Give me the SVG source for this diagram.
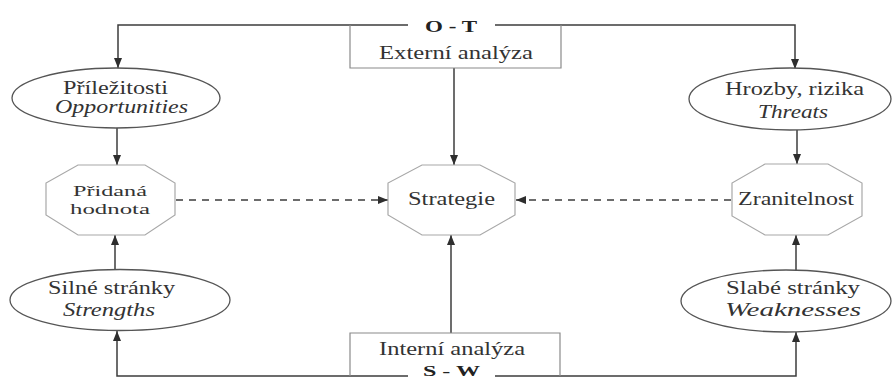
<svg xmlns="http://www.w3.org/2000/svg" width="893" height="378" viewBox="0 0 893 378">
<style>
  text { font-family: "Liberation Serif", "DejaVu Serif", "Times New Roman", serif; font-size: 18px; fill: #333; }
  .it { font-style: italic; }
  .sm { font-size: 15.5px; }
  .bd { font-weight: bold; font-size: 17px; fill: #222; }
  .conn { fill: none; stroke: #3c3c3c; stroke-width: 1.5; }
  .dash { stroke-dasharray: 7 6; }
  .oct { fill: #fff; stroke: #a8a8a8; stroke-width: 1.2; }
  .ell { fill: #fff; stroke: #555; stroke-width: 1.3; }
  .box { fill: none; stroke: #8a8a8a; stroke-width: 1.2; }
</style>
<defs>
  <marker id="ah" markerWidth="10" markerHeight="10" viewBox="0 0 10 10" refX="10" refY="5" orient="auto" markerUnits="userSpaceOnUse">
    <path d="M0,1 L10,5 L0,9 Z" fill="#2e2e2e"/>
  </marker>
</defs>
<rect width="893" height="378" fill="#fff"/>

<g id="connectors">
  <path class="conn" d="M408,25 H118 V68" marker-end="url(#ah)"/>
  <path class="conn" d="M495,25 H795 V69" marker-end="url(#ah)"/>
  <path class="conn" d="M454,68 V165" marker-end="url(#ah)"/>
  <path class="conn" d="M117,128 V165" marker-end="url(#ah)"/>
  <path class="conn" d="M797,130 V164" marker-end="url(#ah)"/>
  <path class="conn dash" d="M176,200 H388" marker-end="url(#ah)"/>
  <path class="conn dash" d="M731,200 H516" marker-end="url(#ah)"/>
  <path class="conn" d="M115,270 V235" marker-end="url(#ah)"/>
  <path class="conn" d="M796,270 V235" marker-end="url(#ah)"/>
  <path class="conn" d="M451,333 V235" marker-end="url(#ah)"/>
  <path class="conn" d="M408,376 H117 V331" marker-end="url(#ah)"/>
  <path class="conn" d="M495,376 H796 V332" marker-end="url(#ah)"/>
</g>

<g id="externi">
  <path class="box" d="M350,25 V68 H561 V25"/>
  <text class="bd" x="425" y="32" textLength="52" lengthAdjust="spacingAndGlyphs" font-family="Liberation Serif, serif">O - T</text>
  <text x="379" y="59" textLength="154" lengthAdjust="spacingAndGlyphs" font-family="Liberation Serif, serif">Externí analýza</text>
</g>

<g id="prilezitosti">
  <ellipse class="ell" cx="116" cy="98" rx="104" ry="30"/>
  <text x="63" y="94" textLength="105" lengthAdjust="spacingAndGlyphs">Příležitosti</text>
  <text class="it" x="55" y="113" textLength="133" lengthAdjust="spacingAndGlyphs">Opportunities</text>
</g>

<g id="hrozby">
  <ellipse class="ell" cx="790" cy="99" rx="101" ry="31"/>
  <text x="725" y="95" textLength="139" lengthAdjust="spacingAndGlyphs">Hrozby, rizika</text>
  <text class="it" x="758" y="118" textLength="70" lengthAdjust="spacingAndGlyphs">Threats</text>
</g>

<g id="pridana">
  <polygon class="oct" points="78,165 145,165 175,183 175,215 145,235 78,235 46,215 46,183"/>
  <text class="sm" x="73" y="196" textLength="74" lengthAdjust="spacingAndGlyphs">Přidaná</text>
  <text class="sm" x="70" y="214" textLength="80" lengthAdjust="spacingAndGlyphs">hodnota</text>
</g>

<g id="strategie">
  <polygon class="oct" points="422,165 480,165 515,183 515,215 480,235 422,235 388,215 388,183"/>
  <text x="408" y="205" textLength="87" lengthAdjust="spacingAndGlyphs">Strategie</text>
</g>

<g id="zranitelnost">
  <polygon class="oct" points="765,164 828,164 862,183 862,216 828,235 765,235 732,216 732,183"/>
  <text x="738" y="205" textLength="116" lengthAdjust="spacingAndGlyphs">Zranitelnost</text>
</g>

<g id="silne">
  <ellipse class="ell" cx="120" cy="300" rx="110" ry="30.5"/>
  <text x="48" y="294" textLength="127" lengthAdjust="spacingAndGlyphs">Silné stránky</text>
  <text class="it" x="63" y="316" textLength="92" lengthAdjust="spacingAndGlyphs">Strengths</text>
</g>

<g id="slabe">
  <ellipse class="ell" cx="786" cy="301" rx="105" ry="31"/>
  <text x="726" y="294" textLength="134" lengthAdjust="spacingAndGlyphs">Slabé stránky</text>
  <text class="it" x="725" y="316" textLength="136" lengthAdjust="spacingAndGlyphs">Weaknesses</text>
</g>

<g id="interni">
  <path class="box" d="M350,376 V333 H560 V376"/>
  <text x="379" y="355" textLength="146" lengthAdjust="spacingAndGlyphs">Interní analýza</text>
  <text class="bd" x="423" y="376" font-size="14" style="font-size:14px" textLength="57" lengthAdjust="spacingAndGlyphs">S - W</text>
</g>
</svg>
